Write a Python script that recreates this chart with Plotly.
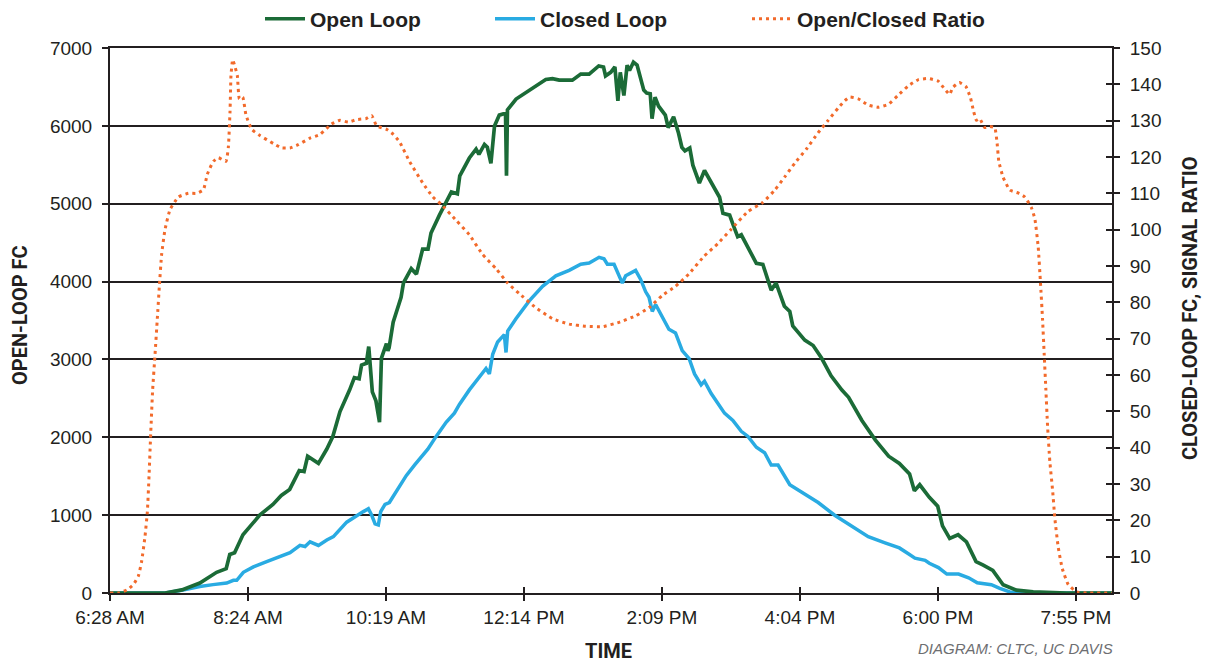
import plotly.graph_objects as go

# Minutes after 6:28 AM for each reading
open_t = [0, 46, 60, 75, 89, 97, 100, 104, 111, 125, 136, 143, 150, 158, 162, 165, 174, 181, 186, 192,
          200, 204, 208, 210, 214, 216, 219, 222, 225, 226.6, 230.8, 232, 233, 236.4, 243, 245, 251.5,
          255.8, 261, 265.5, 268, 275, 285, 290, 292, 300, 305.6, 308, 312.6, 315, 318, 321, 325, 330.2,
          331, 331.8, 339, 350, 363.8, 369.4, 375, 386, 393, 400, 408, 412, 413.7, 418, 421.5, 424, 426,
          429, 431.7, 433.7, 437, 440, 445.6, 448, 451, 452.5, 455, 458, 463.6, 466, 470.5, 474.6, 477.4,
          480, 484, 486.6, 492, 496.3, 502, 508.9, 511.7, 517.3, 520, 524, 527, 532.6, 539.6, 545, 552,
          556, 563, 567.5, 570, 580, 587, 594, 602, 611, 616.6, 627.7, 639, 650, 659, 667.5, 671.5, 676,
          684, 691, 695, 701, 708, 715, 723, 729, 737, 745.6, 756.7, 770.7, 798.6, 836.5]
open_fc = [0, 0, 40, 128, 266, 312, 495, 518, 748, 1000, 1138, 1252, 1330, 1573, 1560, 1757, 1665, 1849,
           2009, 2330, 2606, 2766, 2752, 2927, 2950, 3165, 2583, 2468, 2193, 3018, 3202, 3110, 3150, 3477,
           3798, 3982, 4165, 4096, 4417, 4417, 4624, 4853, 5151, 5128, 5358, 5587, 5702, 5633, 5761, 5725,
           5518, 5999, 6138, 6161, 5358, 6206, 6344, 6459, 6596, 6606, 6587, 6587, 6665, 6665, 6770, 6756,
           6642, 6688, 6756, 6321, 6688, 6390, 6780, 6711, 6817, 6780, 6459, 6422, 6413, 6092, 6367, 6252,
           6138, 5977, 6115, 5908, 5725, 5679, 5716, 5495, 5266, 5427, 5266, 5083, 4876, 4853, 4739, 4578,
           4601, 4440, 4234, 4220, 3890, 3982, 3683, 3615, 3431, 3248, 3179, 3018, 2789, 2606, 2514, 2216,
           1963, 1757, 1665, 1528, 1312, 1390, 1229, 1115, 862, 702, 748, 656, 404, 358, 289, 106, 37, 14,
           0, 0]

closed_t = [0, 46, 61, 75, 86, 97.4, 103, 105.8, 111.3, 119.7, 130.8, 142, 150.3, 158.6, 162.8, 167, 174,
            181, 186.5, 197.6, 206, 211.5, 215.7, 218.5, 221.3, 224, 226, 229.6, 233.2, 239, 247.3, 254.2,
            261.2, 265.3, 272.3, 280.6, 287.5, 291.7, 300, 307, 311.1, 313.9, 316.7, 319.5, 323.6, 329.2,
            330.6, 332, 338.9, 350, 361.1, 372.2, 383.3, 393, 400, 408.3, 412.4, 415.2, 420.8, 424.9,
            427.7, 430.5, 433.3, 438.8, 443, 447.2, 450, 452.7, 455.5, 461, 466.6, 472.1, 477.7, 483.5,
            488, 493.5, 496.3, 501.9, 510.3, 513, 520, 527, 532.6, 539.6, 546.5, 552, 557.7, 564.7, 567.5,
            577.2, 591.2, 605, 619, 633, 647, 659, 666.5, 672, 680.5, 684, 691.6, 698.6, 708.4, 716.8, 724,
            735.8, 742.8, 751.2, 759.5, 836.5]
closed_fc = [0, 0, 0.8, 1.8, 2.3, 2.75, 3.5, 3.5, 5.7, 7.2, 8.65, 10.1, 11.1, 13.1, 12.8, 14.1, 13.1, 14.6,
             15.5, 19.5, 21.4, 22.4, 23.2, 21.4, 19, 18.7, 22.4, 24.4, 24.9, 27.8, 32.3, 35.2, 38.2, 39.6,
             43.1, 47, 49.5, 51.9, 55.9, 58.8, 60.3, 61.8, 60.3, 65.7, 69.1, 71.1, 66.2, 72.1, 75.5, 80.4,
             84.4, 87.3, 88.8, 90.5, 90.8, 92.4, 92, 90.5, 90.5, 87.3, 85.3, 87.3, 87.8, 88.8, 86.3, 82.9,
             81.4, 77.5, 79.4, 76, 72.6, 71.6, 66.7, 64.5, 60.3, 57.3, 58.3, 54.9, 50.9, 49.5, 47.5, 44.5,
             43.1, 40.1, 38.6, 35.2, 35.2, 31.3, 29.8, 27.8, 24.9, 21.4, 18.5, 15.5, 13.8, 12.4, 10.8, 9.6,
             9.0, 8.2, 7.0, 5.2, 5.2, 4.2, 2.8, 2.3, 1.3, 0.3, 0, 0]

ratio_t = [0, 7, 14, 19.5, 23.7, 26.4, 29.2, 31.2, 32.6, 34, 35.6, 37.6, 39.5, 41.2, 43.1, 45.9, 50.1, 57,
           65.4, 72.4, 78, 81.3, 86.3, 90.5, 96.8, 98.8, 100.2, 101, 102.4, 104.4, 106.3, 108, 110.8, 113.5,
           118.3, 125.2, 136.4, 143.3, 150.3, 157.2, 167, 175.3, 185, 192, 199, 206, 214, 218.5, 222.6, 231,
           236.6, 241.7, 250, 261, 269.5, 276.4, 288.9, 300, 311, 322.2, 332, 341.7, 355.5, 369.4, 383.3,
           397.2, 411, 425, 438.8, 449.9, 461, 472.1, 483.2, 496, 507.5, 518.6, 532.6, 545, 555, 563, 571.7,
           581.4, 591, 599.6, 608, 613.5, 617.7, 624.7, 633, 641.4, 649.8, 658, 666.5, 675, 683, 691.3, 697,
           701, 703.5, 709, 714.5, 718.2, 721, 723.3, 726, 730.2, 734.4, 738.6, 740.6, 742, 745.6, 751.2,
           758.1, 763.7, 769.3, 772.1, 774.9, 776.8, 778.5, 779.9, 781.3, 782.7, 784.6, 786.9, 788.8, 791.6,
           795, 800, 806.9, 815.3, 836.5]
ratio = [0, 0, 0.8, 2.3, 4.7, 8.7, 15.5, 22.4, 32.3, 44, 55.9, 65.7, 75.5, 84.4, 93.2, 100, 105.5, 109, 110,
         110, 111, 115.3, 118.8, 119.8, 118.8, 122.7, 132.5, 142.4, 146.8, 144.8, 142.4, 136, 136.5, 131.6,
         127.6, 125.9, 123.7, 122.5, 122.5, 123.4, 125.2, 126.2, 129.1, 130.1, 129.6, 130.3, 130.6, 131.4,
         128.6, 127.6, 126.2, 124.2, 118.8, 112.9, 109, 107, 102.6, 98.6, 93.2, 89.3, 85.3, 82.4, 78.5, 75.5,
         74, 73.4, 73.3, 74.5, 76.3, 78.5, 81.9, 84.4, 87.8, 92.7, 96.2, 100.1, 105, 107.5, 110.9, 114.4,
         118.3, 122.2, 126.6, 130.1, 133.5, 135.5, 136.5, 136, 134.3, 133.7, 134.5, 137, 139.6, 141.3, 141.6,
         140.9, 138.6, 137.2, 139.1, 140.5, 139.4, 136.5, 132.5, 130.1, 130.6, 128.1, 128.4, 128.1, 123.7,
         118.8, 114.4, 110.9, 110.1, 109, 106, 103, 95.2, 85.3, 75.5, 65.7, 55.9, 46, 36.2, 28.3, 20.5, 12.6,
         6.7, 2.3, 0.3, 0, 0]

tick_step = 115.2
tick_labels = ["6:28 AM", "8:24 AM", "10:19 AM", "12:14 PM", "2:09 PM", "4:04 PM", "6:00 PM", "7:55 PM"]
x_end = 836.5

TEXT = "#231f20"
GREEN = "#1b6b37"
BLUE = "#29abe2"
ORANGE = "#f26a2b"
BASE_FONT = "Liberation Sans, Arial, sans-serif"
BOLD_FONT = "Liberation Sans Narrow, Roboto, sans-serif"
LEGEND_FONT = dict(family=BASE_FONT, size=21, color=TEXT, weight="bold")

fig = go.Figure()
# Closed loop and ratio share the right-hand scale; open loop uses the left one
fig.add_trace(go.Scatter(x=closed_t, y=closed_fc, mode="lines", name="Closed Loop",
                         line=dict(color=BLUE, width=3.5), yaxis="y", legend="legend2"))
fig.add_trace(go.Scatter(x=open_t, y=open_fc, mode="lines", name="Open Loop",
                         line=dict(color=GREEN, width=3.7), yaxis="y2", legend="legend"))
fig.add_trace(go.Scatter(x=ratio_t, y=ratio, mode="lines", name="Open/Closed Ratio",
                         line=dict(color=ORANGE, width=3, dash="3px,4px", shape="spline", smoothing=0.4),
                         yaxis="y3", legend="legend3"))
# empty carrier so the upward-pointing time ticks get drawn
fig.add_trace(go.Scatter(x=[], y=[], xaxis="x2", yaxis="y", showlegend=False, hoverinfo="skip"))


def legend_at(px):
    return dict(orientation="h", x=(px - 110) / 1002, xanchor="left", y=1.053, yanchor="middle",
                font=LEGEND_FONT, itemwidth=40, bgcolor="rgba(0,0,0,0)")


fig.update_layout(
    width=1206, height=662,
    margin=dict(l=110, r=94, t=48, b=69, autoexpand=False),
    paper_bgcolor="white", plot_bgcolor="white",
    font=dict(family=BASE_FONT, size=19, color=TEXT),
    showlegend=True,
    legend=legend_at(260),
    legend2=legend_at(490),
    legend3=legend_at(747),
    xaxis=dict(range=[0, x_end], tickvals=[k * tick_step for k in range(len(tick_labels))],
               ticktext=tick_labels, ticks="outside", ticklen=6, tickwidth=1.5, tickcolor=TEXT,
               showline=True, linecolor=TEXT, linewidth=2, mirror=True, showgrid=False,
               zeroline=False, tickfont=dict(size=19)),
    xaxis2=dict(range=[0, x_end], overlaying="x", matches="x",
                tickvals=[k * tick_step for k in range(len(tick_labels))], ticks="inside", ticklen=6,
                tickwidth=1.5, tickcolor=TEXT, showticklabels=False, showline=False, showgrid=False,
                zeroline=False, side="bottom", anchor="y"),
    yaxis=dict(range=[0, 150], dtick=10, side="right", ticks="outside", ticklen=6, tickwidth=1.5,
               tickcolor=TEXT, showline=True, linecolor=TEXT, linewidth=2, showgrid=False,
               zeroline=False, ticklabelstandoff=6),
    yaxis2=dict(range=[0, 7000], dtick=1000, side="left", overlaying="y", ticks="outside", ticklen=6,
                tickwidth=1.5, tickcolor=TEXT, showline=True, linecolor=TEXT, linewidth=2,
                showgrid=True, gridcolor=TEXT, gridwidth=2, zeroline=False, ticklabelstandoff=6),
    yaxis3=dict(range=[0, 150], dtick=10, overlaying="y", side="right", ticks="inside", ticklen=6,
                tickwidth=1.5, tickcolor=TEXT, showticklabels=False, showline=False, showgrid=False,
                zeroline=False),
)

annotations = [
    dict(text="<b>OPEN-LOOP FC</b>", x=20, y=315, textangle=-90),
    dict(text="<b>CLOSED-LOOP FC, SIGNAL RATIO</b>", x=1190, y=308, textangle=-90),
    dict(text="<b>TIME</b>", x=608, y=651, textangle=0),
]
for a in annotations:
    fig.add_annotation(text=a["text"], xref="paper", yref="paper",
                       x=(a["x"] - 110) / 1002, y=(662 - 69 - a["y"]) / 545,
                       textangle=a["textangle"], showarrow=False, xanchor="center", yanchor="middle",
                       font=dict(family=BOLD_FONT, size=20, color=TEXT))
fig.add_annotation(text="<i>DIAGRAM: CLTC, UC DAVIS</i>", xref="paper", yref="paper",
                   x=(1115 - 110) / 1002, y=(662 - 69 - 648) / 545, xanchor="right", yanchor="middle",
                   showarrow=False, font=dict(family=BASE_FONT, size=15, color="#6d6e71"))

fig.write_html("out.html")
